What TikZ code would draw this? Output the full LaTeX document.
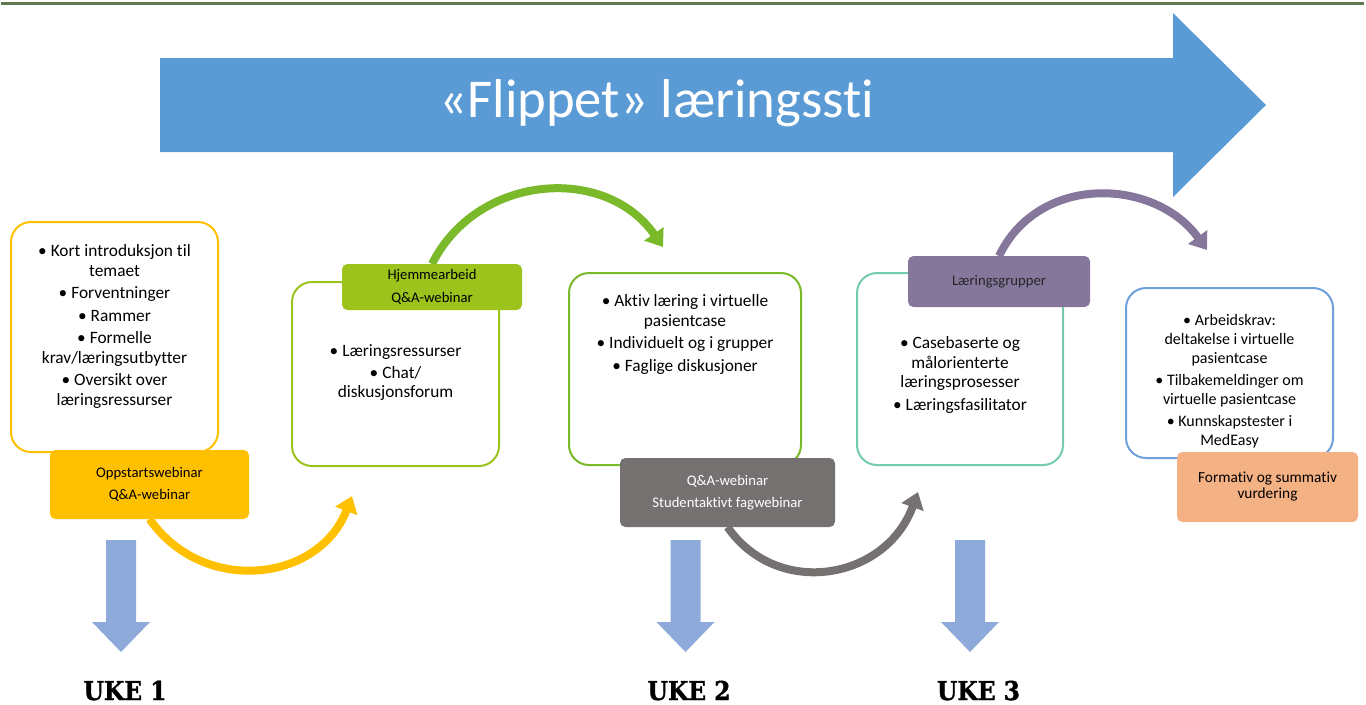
\documentclass[tikz,border=0pt]{standalone}
\usepackage{fontspec}
\setmainfont{Carlito}[Ligatures=NoCommon]
\newfontfamily\ukefont[FakeStretch=0.9,BoldFeatures={FakeBold=1.2}]{DejaVu Serif}
\usetikzlibrary{positioning,arrows.meta}
\definecolor{topgreen}{HTML}{5E7A4E}
\definecolor{bigblue}{HTML}{5B9BD5}
\definecolor{yel}{HTML}{FFC000}
\definecolor{lime}{HTML}{9BC31C}
\definecolor{leaf}{HTML}{7AB929}
\definecolor{stone}{HTML}{767171}
\definecolor{mint}{HTML}{74CBB3}
\definecolor{plum}{HTML}{84779B}
\definecolor{sky}{HTML}{6FA0DC}
\definecolor{peach}{HTML}{F4B183}
\definecolor{arrblue}{HTML}{8EAADB}
\begin{document}
\begin{tikzpicture}[x=0.75pt,y=-0.75pt,
    box/.style={draw=#1,line width=1.5pt,rounded corners=15pt,fill=white},
    tag/.style={fill=#1,rounded corners=4pt,align=center,inner sep=0pt,font=\fontsize{11}{16.5}\selectfont},
    btxt/.style={align=center,inner sep=0pt,font=\fontsize{13}{14.6}\selectfont},
    bend/.style={line width=6pt,draw=#1,-{Triangle[width=17pt,length=12pt]}},
    uke/.style={anchor=base,font=\ukefont\bfseries\fontsize{19.5}{22}\selectfont}]
\useasboundingbox (0,0) rectangle (1366,704);
\draw[topgreen,line width=2.25pt] (1,3) -- (1364,3);

\fill[bigblue] (160,58) -- (1173,58) -- (1173,13) -- (1266,105) -- (1173,197) -- (1173,152) -- (160,152) -- cycle;
\node[text=white,font=\fontsize{41}{46}\selectfont] (title) at (657,103) {«Flippet» læringssti};

\node[box=yel,minimum width=155.25pt,minimum height=172.5pt] (b1) at (114.5,337) {};
\node[box=lime,minimum width=155.25pt,minimum height=138pt] (b2) at (395.5,374) {};
\node[box=leaf,minimum width=174pt,minimum height=144pt] (b3) at (685,369) {};
\node[box=mint,minimum width=154.5pt,minimum height=144pt] (b4) at (960,369) {};
\node[box=sky,minimum width=155.25pt,minimum height=127.5pt] (b5) at (1229.5,373) {};

\node[btxt,below=17.5pt of b1.north] (t1) {• Kort introduksjon til\\temaet\\[2.3pt]• Forventninger\\[2.3pt]• Rammer\\[2.3pt]• Formelle\\krav/læringsutbytter\\[2.3pt]• Oversikt over\\læringsressurser};
\node[btxt,below=47.5pt of b2.north] (t2) {• Læringsressurser\\[1.5pt]• Chat/\\diskusjonsforum};
\node[btxt,below=17pt of b3.north] (t3) {• Aktiv læring i virtuelle\\pasientcase\\[2.3pt]• Individuelt og i grupper\\[2.3pt]• Faglige diskusjoner};
\node[btxt,below=48.5pt of b4.north] (t4) {• Casebaserte og\\målorienterte\\læringsprosesser\\[2.3pt]• Læringsfasilitator};
\node[btxt,below=20pt of b5.north,font=\fontsize{12}{14.6}\selectfont] (t5) {• Arbeidskrav:\\deltakelse i virtuelle\\pasientcase\\[1.5pt]• Tilbakemeldinger om\\virtuelle pasientcase\\[1.5pt]• Kunnskapstester i\\MedEasy};

\coordinate (e1) at (352,496);
\coordinate (e2) at (663,247);
\coordinate (e3) at (918,492);
\coordinate (e4) at (1207,250);
\draw[bend=yel] (149.5,519) .. controls +(54,77) and +(-33,86) .. (e1);
\draw[bend=leaf] (432,264) .. controls +(45,-90) and +(-58,-83) .. (e2);
\draw[bend=stone] (727.5,527) .. controls +(50,72) and +(-32,88) .. (e3);
\draw[bend=plum] (999,256) .. controls +(40,-83) and +(-52,-72) .. (e4);

\node[tag=yel,minimum width=149.25pt,minimum height=51.75pt] (g1) at (149.5,484.5) {Oppstartswebinar\\Q\&A-webinar};
\node[tag=lime,minimum width=135pt,minimum height=34.5pt,font=\fontsize{11}{17}\selectfont] (g2) at (432,287) {Hjemmearbeid\\Q\&A-webinar};
\node[tag=stone,text=white,minimum width=161.25pt,minimum height=51.75pt] (g3) at (727.5,492.5) {Q\&A-webinar\\Studentaktivt fagwebinar};
\node[tag=plum,text=black!85,minimum width=136.5pt,minimum height=38.25pt] (g4) at (999,281.5) {Læringsgrupper};
\node[tag=peach,minimum width=135.75pt,minimum height=52.5pt,font=\fontsize{11.5}{12}\selectfont] (g5) at (1267.5,487) {Formativ og summativ\\vurdering};

\foreach \x in {121,685.5,970}
  \fill[arrblue] (\x-15,540) -- (\x+15,540) -- (\x+15,622) -- (\x+29,622) -- (\x,652) -- (\x-29,622) -- (\x-15,622) -- cycle;

\node[uke] (u1) at (125,700) {UKE 1};
\node[uke] (u2) at (689,700) {UKE 2};
\node[uke] (u3) at (978.5,700) {UKE 3};
\end{tikzpicture}
\end{document}
